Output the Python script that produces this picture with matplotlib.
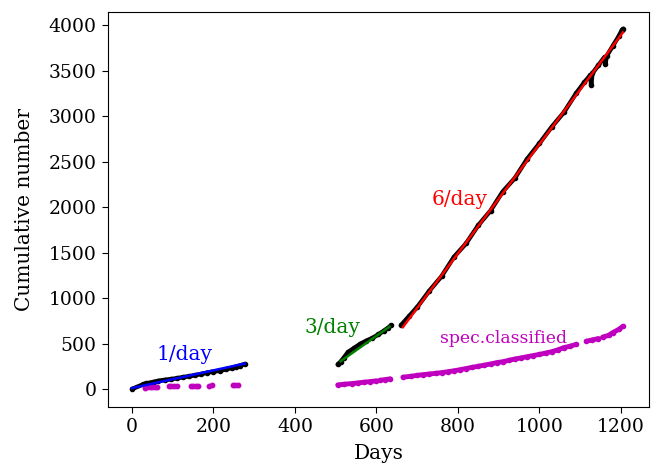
import matplotlib.pyplot as plt
import numpy as np

plt.rcParams["font.family"] = "DejaVu Serif"

# cumulative counts (black traces), three observing periods
days_p1 = [0, 27, 35, 45, 55, 65, 80, 95, 110, 125, 140, 155, 170, 185,
           200, 215, 230, 245, 255, 265, 277]
cum_p1 = [0, 50, 62, 70, 80, 90, 100, 108, 118, 130, 140, 152, 165, 180,
          192, 200, 215, 232, 245, 258, 275]

days_p2 = [505, 512, 520, 530, 545, 560, 575, 590, 605, 618, 628, 636]
cum_p2 = [270, 300, 345, 405, 450, 495, 530, 560, 600, 640, 670, 700]

days_p3 = [660, 680, 700, 730, 760, 790, 820, 850, 880, 910, 940, 970,
           1000, 1030, 1060, 1090, 1110, 1125, 1127, 1130, 1145, 1160,
           1162, 1165, 1180, 1195, 1203, 1206]
cum_p3 = [700, 800, 900, 1080, 1240, 1450, 1600, 1800, 1960, 2170, 2320,
          2530, 2700, 2880, 3040, 3250, 3370, 3450, 3340, 3470, 3560, 3650,
          3570, 3660, 3770, 3880, 3950, 3960]

# rate fits (start, end)
fit1_days, fit1_vals = [0, 277], [10, 280]
fit3_days, fit3_vals = [512, 632], [305, 685]
fit6_days, fit6_vals = [665, 1205], [680, 3920]

# spectroscopically classified
spec_days1 = [32, 38, 44, 50, 56, 62, 90, 96, 104, 110, 145, 150, 157, 163,
              188, 196, 247, 254, 260]
spec_vals1 = [15, 18, 20, 22, 24, 26, 28, 29, 30, 31, 33, 34, 35, 36,
              38, 39, 40, 41, 42]

spec_days2 = [505, 520, 540, 555, 570, 585, 600, np.nan, 608, 620, 634,
              np.nan, 665, 685, 700, 715, 730, 745, 760, 775, 790, 805,
              820, 835, 850, 865, 880, 895, 910, 925, 940, 955, 970, 985,
              1000, 1015, 1030, 1045, 1060, 1075, 1090, np.nan, 1115, 1130,
              1145, np.nan, 1155, 1170, 1180, 1195, 1205]
spec_vals2 = [45, 52, 60, 67, 75, 82, 90, np.nan, 95, 103, 112,
              np.nan, 130, 140, 150, 158, 165, 172, 180, 190, 200, 212,
              225, 238, 250, 262, 275, 290, 300, 315, 330, 342, 355, 368,
              380, 395, 410, 430, 455, 470, 490, np.nan, 525, 540,
              555, np.nan, 570, 590, 620, 655, 690]

fig = plt.figure(figsize=(6.52, 4.66), dpi=100)
ax = fig.add_axes([0.1656, 0.1266, 0.8298, 0.8474])

for d, v in [(days_p1, cum_p1), (days_p2, cum_p2), (days_p3, cum_p3)]:
    ax.plot(d, v, color="k", lw=3.2, marker="o", ms=3,
            solid_capstyle="round", zorder=2)

ax.plot(fit1_days, fit1_vals, color="b", lw=1.8, zorder=3)
ax.plot(fit3_days, fit3_vals, color="g", lw=1.8, zorder=3)
ax.plot(fit6_days, fit6_vals, color="r", lw=1.8, zorder=3)

ax.plot(spec_days1, spec_vals1, "o", color="m", ms=3.2, zorder=2)
ax.plot(spec_days2, spec_vals2, color="m", lw=3.5, marker="o", ms=3,
        solid_capstyle="round", zorder=2)

ax.text(130, 374, "1/day", color="b", fontsize=14.5, ha="center", va="center")
ax.text(493, 680, "3/day", color="g", fontsize=14.5, ha="center", va="center")
ax.text(805, 2088, "6/day", color="r", fontsize=14.5, ha="center", va="center")
ax.text(912, 560, "spec.classified", color="m", fontsize=12.4,
        ha="center", va="center")

ax.set_xlim(-59, 1269)
ax.set_ylim(-198, 4143)
ax.set_xticks(np.arange(0, 1201, 200))
ax.set_yticks(np.arange(0, 4001, 500))
ax.tick_params(labelsize=13.5, length=4.5)
ax.set_xlabel("Days", fontsize=14.5, labelpad=6)
ax.set_ylabel("Cumulative number", fontsize=14.5, labelpad=11)

fig.savefig("out.png", dpi=100)
